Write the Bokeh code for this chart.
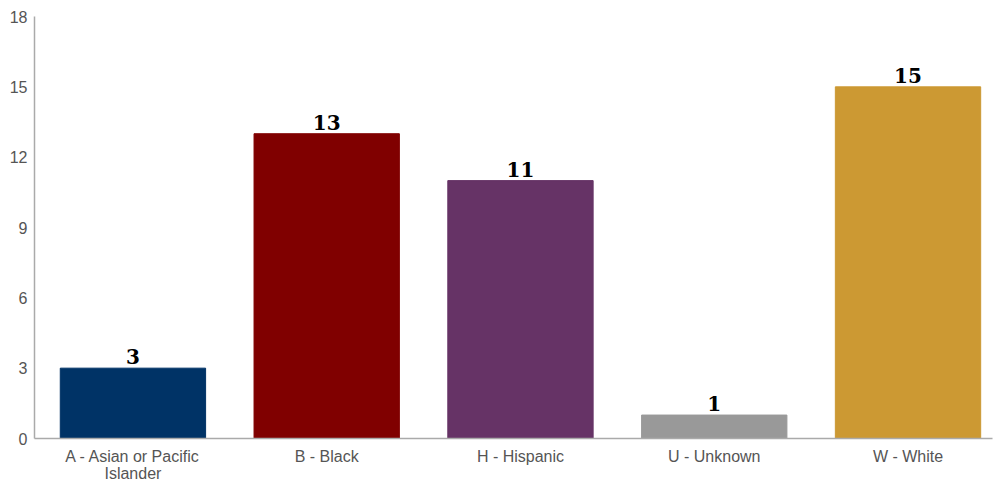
from bokeh.plotting import figure
from bokeh.models import ColumnDataSource, FixedTicker, Range1d
from bokeh.core.properties import value
from bokeh.embed import file_html
from bokeh.resources import INLINE

categories = ["A - Asian or Pacific\nIslander", "B - Black", "H - Hispanic", "U - Unknown", "W - White"]
counts = [3, 13, 11, 1, 15]
colors = ["#003366", "#800000", "#663366", "#999999", "#CC9933"]
y_ticks = [0, 3, 6, 9, 12, 15, 18]

xs = list(range(len(categories)))
src = ColumnDataSource(dict(x=xs, y=counts, c=colors, lbl=[str(v) for v in counts]))

p = figure(width=994, height=485, output_backend="svg", toolbar_location=None,
           x_range=Range1d(-0.508, 4.436), y_range=Range1d(0, 18),
           min_border_left=34, min_border_right=2, min_border_top=16, min_border_bottom=45)
p.outline_line_color = None
p.xgrid.visible = False
p.ygrid.visible = False

p.vbar(x="x", top="y", width=0.75, color="c", source=src)
p.text(x="x", y="y", text="lbl", source=src, text_align="center", text_baseline="bottom",
       text_font=value("DejaVu Serif"), text_font_style="bold", text_font_size="20px",
       text_color="#000000", y_offset=-4)

p.xaxis.ticker = FixedTicker(ticks=xs)
p.xaxis.major_label_overrides = {i: c for i, c in enumerate(categories)}
p.yaxis.ticker = FixedTicker(ticks=y_ticks)
for ax in (p.xaxis[0], p.yaxis[0]):
    ax.axis_line_color = "#aaaaaa"
    ax.axis_line_width = 1.5
    ax.major_tick_line_color = None
    ax.minor_tick_line_color = None
    ax.major_tick_out = 0
    ax.major_tick_in = 0
    ax.major_label_text_font = "Liberation Sans"
    ax.major_label_text_font_size = "16px"
    ax.major_label_text_color = "#555555"
p.yaxis.major_label_standoff = 7
p.xaxis.major_label_standoff = 9
p.xaxis.major_label_text_line_height = 1.05

open("out.html", "w").write(file_html(p, INLINE))
